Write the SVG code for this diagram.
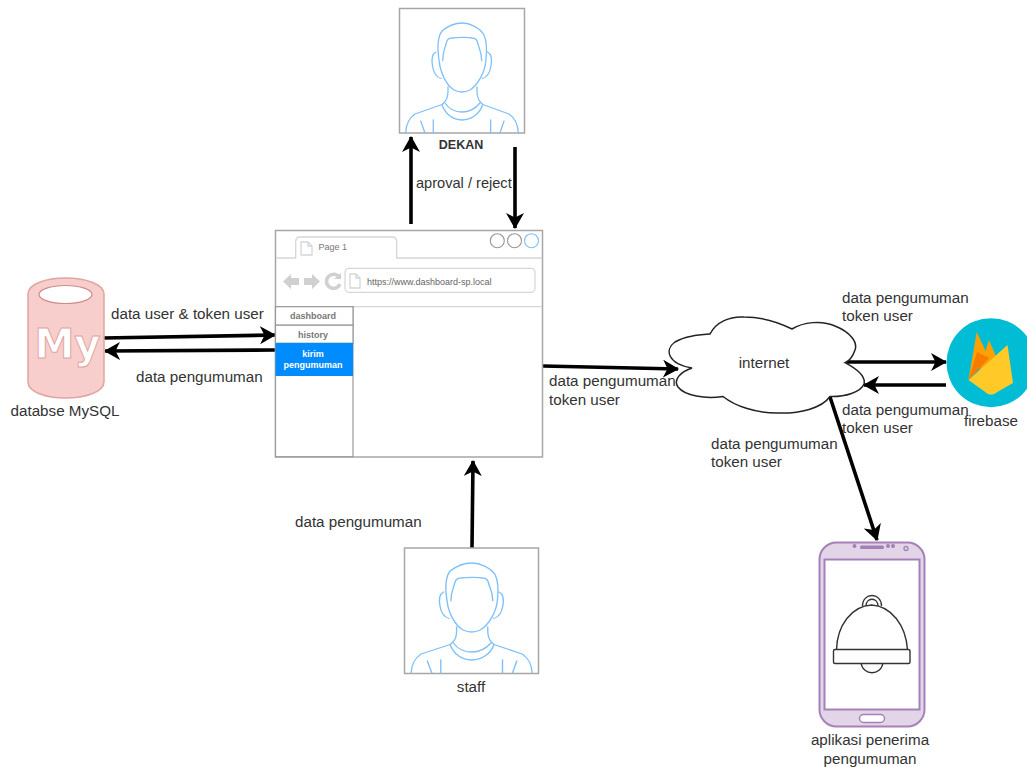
<svg xmlns="http://www.w3.org/2000/svg" xmlns:xlink="http://www.w3.org/1999/xlink" width="1027" height="767" viewBox="0 0 1027 767">
<style>
text{font-family:"Liberation Sans",Arial,sans-serif;fill:#333;font-size:15.2px}
.frame{fill:#fff;stroke:#a6a6a6;stroke-width:1.5}
.p{fill:none;stroke:#80c0fa;stroke-width:1.3;stroke-linecap:round;stroke-linejoin:round}
.c{fill:none;stroke:#000;stroke-width:3.6;marker-end:url(#ah)}
.g{fill:none;stroke:#d6d6d6;stroke-width:1.3}
.mt{font-size:9px;font-weight:bold;fill:#777;text-anchor:middle}
.m{fill:#fff;stroke:#9a9a9a;stroke-width:1.2}
.ph{fill:#e1d5e7;stroke:#a680b8;stroke-width:2}
.bell{fill:#fff;stroke:#333;stroke-width:1.4}
</style>
<defs>
<marker id="ah" markerUnits="userSpaceOnUse" markerWidth="20" markerHeight="20" refX="15" refY="9" orient="auto">
<path d="M0 0L16 9L0 18L4.500 9Z" fill="#000"/>
</marker>
<g id="person">
<path class="p" d="M439 60C437 46 437.500 37 442 31C448 26 455 23 462 23C470 23 480 28 484 35C487 42 487 50 486 60C485 72 478 85 470 90C465 92.500 459 92.500 454 90C446 85 440 72 439 60Z"/>
<path class="p" d="M442.700 60.700C442.700 52 445 48 446 44C447 40 448 38 452 38C456 37.500 468 37 472 38C476 38 477 40 478 44C479 48 481.700 52 481.700 60.700"/>
<path class="p" d="M436 52C432 54 431.500 60 432.500 66C433.500 72 436 77 441 78.500M487.500 52C491.500 54 492 60 491 66C490 72 487.500 77 482.500 78.500"/>
<path class="p" d="M448 87C448 92 448.500 96 446 100C445 102 443 103.500 442 104.500L415 114C409 118 406 126 405.700 133M477 87C477 92 476.500 96 479 100C480 102 481.700 103.500 482.700 104.500L509 114C515 118 518 126 518.300 133"/>
<path class="p" d="M442 104.500C445 114 453 120 462 120C471 120 480 114 482.700 104.500M445 103C449 109 455 112 462 112C469 112 475 109 480 103"/>
<path class="p" d="M420.700 121L425 133M433.300 120V133M490.700 120V133M504 121L500 133"/>
</g>
</defs>

<g id="connectors">
<path class="c" d="M411 224V137"/>
<path class="c" d="M515 147V228"/>
<path class="c" d="M103 338L275 335"/>
<path class="c" d="M275 350L105 351"/>
<path class="c" d="M543 366L678 369"/>
<path class="c" d="M847 362H946"/>
<path class="c" d="M946 385H864"/>
<path class="c" d="M830 397L877 540"/>
<path class="c" d="M472 548L473 461"/>
</g>

<g id="dekan">
<rect class="frame" x="399.500" y="8.500" width="125" height="124.500"/>
<use xlink:href="#person" href="#person"/>
<text x="461" y="148.500" text-anchor="middle" style="font-size:12.500px;font-weight:bold">DEKAN</text>
</g>

<g id="staff">
<rect class="frame" x="404.500" y="548" width="134" height="125.500"/>
<use xlink:href="#person" href="#person" transform="translate(-25 540) scale(1.075 1)"/>
<text x="471" y="692" text-anchor="middle">staff</text>
</g>

<g id="browser">
<rect class="frame" x="275.500" y="230.500" width="267" height="226.500"/>
<path class="g" d="M276 258H295.700V242Q295.700 237 300 237H392Q396.700 237 396.700 242V258H542M276 306.700H542"/>
<circle cx="497.300" cy="240.700" r="7" fill="#fff" stroke="#999" stroke-width="1.100"/>
<circle cx="514.500" cy="240.700" r="7" fill="#fff" stroke="#999" stroke-width="1.100"/>
<circle cx="531.500" cy="240.700" r="7" fill="#fff" stroke="#80c0fa" stroke-width="1.100"/>
<path class="g" d="M301 242H308L312 246V255H301ZM308 242V246H312"/>
<text x="318.500" y="250" style="font-size:9px;fill:#777">Page 1</text>
<path d="M283 281.500L291 274V278H299V285H291V289ZM320 281.500L312 274V278H304V285H312V289Z" fill="#d0d0d0"/>
<path d="M339 277A7 7 0 1 0 340 284" fill="none" stroke="#d0d0d0" stroke-width="3.500"/>
<path d="M334 279H341V273Z" fill="#d0d0d0"/>
<rect x="345" y="268.300" width="190" height="24" rx="4" fill="#fff" stroke="#d6d6d6" stroke-width="1.200"/>
<path class="g" d="M350 274H356L360 278V288H350ZM356 274V278H360"/>
<text x="367" y="284.500" style="font-size:9px;fill:#666">https://www.dashboard-sp.local</text>
<rect class="m" x="275.500" y="306.700" width="77.500" height="150"/>
<rect class="m" x="275.500" y="306.700" width="77.500" height="18.500"/>
<rect class="m" x="275.500" y="325.200" width="77.500" height="18"/>
<rect x="275.500" y="343" width="77.500" height="33" fill="#008cff"/>
<text class="mt" x="313" y="319">dashboard</text>
<text class="mt" x="313" y="337.500">history</text>
<text class="mt" x="313" y="356.500" style="fill:#fff">kirim</text>
<text class="mt" x="313" y="367.500" style="fill:#fff">pengumuman</text>
</g>

<g id="mysql">
<path d="M28 294C28 284 46 278 65.500 278C85 278 104 284 104 294V382C104 392 85 398 65.500 398C46 398 28 392 28 382Z" fill="#f8cecc" stroke="#e0a5a2" stroke-width="1.500"/>
<ellipse cx="65.500" cy="294.500" rx="26.500" ry="9" fill="#fff" stroke="#d08b88" stroke-width="1.200"/>
<text x="34.500" y="358" textLength="66" lengthAdjust="spacingAndGlyphs" style="font-family:'DejaVu Sans',sans-serif;font-size:41px;font-weight:bold;fill:#fff;stroke:#e0a5a2;stroke-width:1">My</text>
<text x="65" y="416" text-anchor="middle">databse MySQL</text>
</g>

<g id="internet">
<path d="M692 368C668 364 664 350 675 342C685 336 698 335 710 334C716 322 730 316 744 317C762 317 778 322 792 329C803 322 822 320 835 326C850 332 858 342 855 350C853 356 849 361 845 362.700C855 368 866 376 864 384C861 392 845 397 830 396.500C822 408 800 414 777 413C755 413 735 406 723 396.500C705 399 685 396 678 387C673 380 680 372 692 368Z" fill="#fff" stroke="#222" stroke-width="1.500"/>
<text x="764" y="368" text-anchor="middle">internet</text>
</g>

<g id="firebase">
<circle cx="991" cy="362.700" r="44.500" fill="#00bcd4"/>
<path d="M968.500 380L976.700 332L989 358Z" fill="#ffa000"/>
<path d="M979 372L989 340L1001 368Z" fill="#ffa000"/>
<path d="M968.500 380L977 352L989 358Z" fill="#f57c00"/>
<path d="M968.500 380L1007.500 345L1013 383L994 394Q991 395 988 394Z" fill="#ffca28"/>
<text x="991" y="426" text-anchor="middle">firebase</text>
</g>

<g id="phone">
<rect class="ph" x="819.500" y="542.500" width="105" height="184" rx="17"/>
<rect x="824.500" y="559.500" width="95" height="150" fill="#fff" stroke="#a680b8" stroke-width="2"/>
<rect x="860" y="545.500" width="24" height="3.500" rx="1.500" fill="#a680b8"/>
<circle cx="854.500" cy="546" r="2" fill="#a680b8"/>
<circle cx="888" cy="546" r="2" fill="#a680b8"/>
<circle cx="893" cy="546" r="2" fill="#a680b8"/>
<circle cx="906" cy="548.500" r="2" fill="none" stroke="#a680b8" stroke-width="1.300"/>
<rect x="859.500" y="714.500" width="25" height="8" rx="4" fill="#fff" stroke="#a680b8" stroke-width="1.500"/>
<path class="bell" d="M862.500 606C862.500 592 881.500 592 881.500 606M866 606C866 597 878 597 878 606"/>
<path class="bell" d="M836.500 650C837 625 852 606 871.500 605C891 606 906 625 907.500 650Z"/>
<path class="bell" d="M861 663C863 676 881 676 883 663"/>
<rect class="bell" x="833.500" y="649.500" width="76.500" height="14" rx="1.500"/>
<text x="870" y="745" text-anchor="middle">aplikasi penerima</text>
<text x="870" y="764" text-anchor="middle">pengumuman</text>
</g>

<g id="labels">
<text x="416" y="188" style="font-size:14.600px">aproval / reject</text>
<text x="111" y="319">data user &amp; token user</text>
<text x="136" y="382">data pengumuman</text>
<text x="549" y="386">data pengumuman</text>
<text x="549" y="405">token user</text>
<text x="842" y="303">data pengumuman</text>
<text x="842" y="321">token user</text>
<text x="842" y="415">data pengumuman</text>
<text x="842" y="433">token user</text>
<text x="711" y="449">data pengumuman</text>
<text x="711" y="467">token user</text>
<text x="295" y="527">data pengumuman</text>
</g>
</svg>
